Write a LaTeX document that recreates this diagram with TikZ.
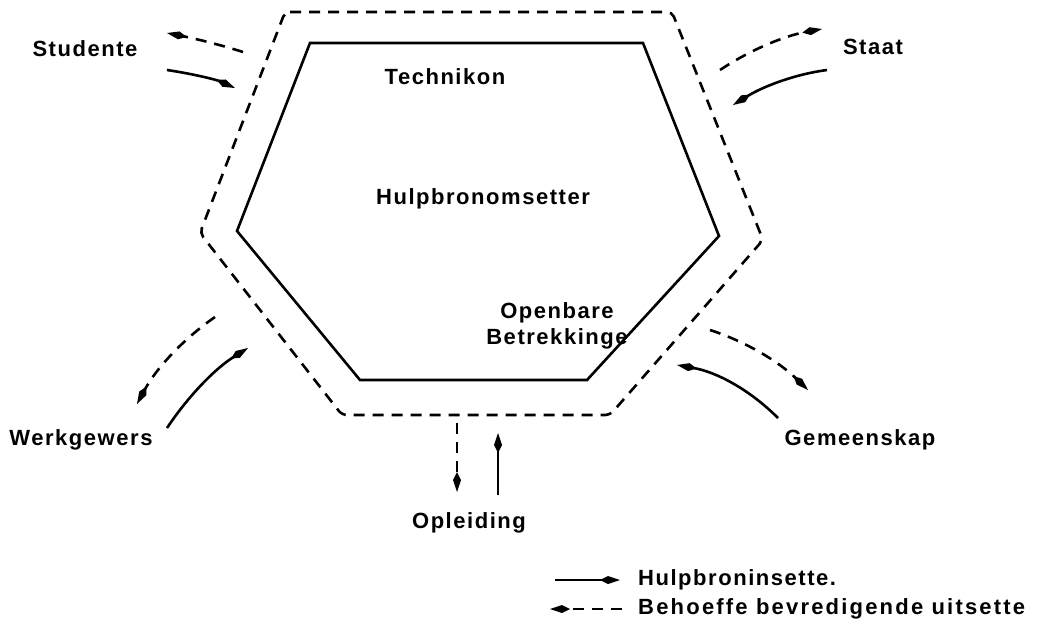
\documentclass[tikz,border=0pt]{standalone}
\usepackage{fontspec}
\setmainfont{Liberation Sans}[LetterSpace=7]
\usetikzlibrary{arrows.meta, positioning}

\begin{document}
\begin{tikzpicture}[
    x=1pt, y=-1pt,
    lbl/.style={font=\fontsize{22}{26}\selectfont\bfseries, inner sep=0pt},
    wall/.style={line width=2.6pt, line join=miter},
    dashwall/.style={line width=2.6pt, dash pattern=on 11pt off 8pt, rounded corners=5pt},
    input/.style={-{Kite[length=20pt,width=8pt,inset=8pt]}, line width=2.6pt},
    output/.style={-{Kite[length=20pt,width=8pt,inset=8pt]}, line width=2.6pt, dash pattern=on 11pt off 8pt}
  ]
    \useasboundingbox (0,0) rectangle (1037,638);

    \draw[wall] (310,43) -- (643,43) -- (719,236) -- (587,380) -- (360,380) -- (237,231) -- cycle;
    \draw[dashwall] (285,12) -- (672,12) -- (763,240) -- (610,415) -- (342,415) -- (200,233) -- cycle;

    \node[lbl] (tech) at (445,77) {Technikon};
    \node[lbl] (omset) at (483,199) {Hulpbronomsetter};
    \node[lbl, align=center] (pr) at (557,326) {Openbare\\Betrekkinge};

    \node[lbl] (stud) at (85,49) {Studente};
    \node[lbl] (staat) at (873,47) {Staat};
    \node[lbl] (werk) at (81,440) {Werkgewers};
    \node[lbl] (gemeen) at (860,440) {Gemeenskap};
    \node[lbl] (opl) at (469,523) {Opleiding};

    \coordinate (studA) at (243,52);  \coordinate (studB) at (167,33);
    \coordinate (studC) at (167,70);  \coordinate (studD) at (235,88);
    \coordinate (staatA) at (720,70); \coordinate (staatB) at (822,29);
    \coordinate (staatC) at (827,70); \coordinate (staatD) at (733,105);
    \coordinate (werkA) at (215,317); \coordinate (werkB) at (137,404);
    \coordinate (werkC) at (167,428); \coordinate (werkD) at (248,348);
    \coordinate (gemA) at (710,330);  \coordinate (gemB) at (808,390);
    \coordinate (gemC) at (778,418);  \coordinate (gemD) at (677,365);
    \coordinate (oplA) at (457,423);  \coordinate (oplB) at (457,492);
    \coordinate (oplC) at (498,495);  \coordinate (oplD) at (498,433);

    \draw[output] (studA) .. controls (218,44) and (192,38) .. (studB);
    \draw[input] (studC) .. controls (194,74) and (217,80) .. (studD);
    \draw[output] (staatA) .. controls (750,50) and (784,36) .. (staatB);
    \draw[input] (staatC) .. controls (796,74) and (764,86) .. (staatD);
    \draw[output] (werkA) .. controls (182,340) and (156,369) .. (werkB);
    \draw[input] (werkC) .. controls (189,395) and (216,368) .. (werkD);
    \draw[output] (gemA) .. controls (747,342) and (779,362) .. (gemB);
    \draw[input] (gemC) .. controls (749,389) and (716,372) .. (gemD);
    \draw[output] (oplA) -- (oplB);
    \draw[input] (oplC) -- (oplD);

    \node[lbl, anchor=west] (legin) at (638,580) {Hulpbroninsette.};
    \node[lbl, anchor=west] (legout) at (638,609) {\addfontfeatures{LetterSpace=10}Behoeffe bevredigende uitsette};
    \draw[input] ([xshift=-83pt]legin.west) -- ([xshift=-18pt]legin.west);
    \draw[output] ([xshift=-16pt]legout.west) -- ([xshift=-88pt]legout.west);
\end{tikzpicture}
\end{document}
